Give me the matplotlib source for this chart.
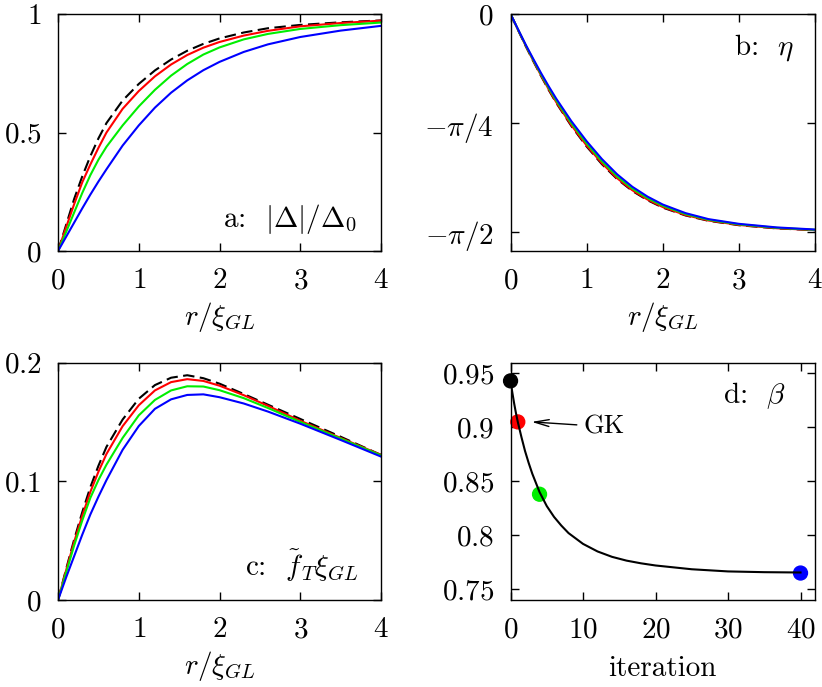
import numpy as np
import matplotlib
matplotlib.use("Agg")
import matplotlib.pyplot as plt

plt.rcParams['font.family'] = 'serif'
plt.rcParams['font.serif'] = ['cmr10']
plt.rcParams['mathtext.fontset'] = 'cm'
plt.rcParams['axes.unicode_minus'] = False

# radial grid r / xi_GL
r = [0, 0.1, 0.2, 0.3, 0.4, 0.5, 0.6, 0.8, 1.0, 1.2, 1.4, 1.6, 1.8, 2.0, 2.3, 2.6, 3.0, 3.5, 4.0]

# a: |Delta| / Delta_0
gap_black = [0, 0.11, 0.22, 0.315, 0.40, 0.475, 0.54, 0.635, 0.705, 0.762, 0.808, 0.845, 0.874, 0.897, 0.922, 0.940, 0.954, 0.965, 0.973]
gap_red = [0, 0.10, 0.198, 0.29, 0.365, 0.435, 0.50, 0.60, 0.675, 0.737, 0.787, 0.827, 0.858, 0.882, 0.909, 0.929, 0.948, 0.962, 0.972]
gap_green = [0, 0.08, 0.163, 0.245, 0.32, 0.385, 0.44, 0.53, 0.61, 0.68, 0.74, 0.789, 0.829, 0.859, 0.893, 0.916, 0.937, 0.953, 0.964]
gap_blue = [0, 0.06, 0.12, 0.18, 0.238, 0.293, 0.345, 0.445, 0.53, 0.605, 0.668, 0.72, 0.763, 0.798, 0.84, 0.872, 0.903, 0.93, 0.95]

# b: eta
eta_black = [0, -0.117, -0.232, -0.341, -0.446, -0.546, -0.640, -0.808, -0.955, -1.082, -1.189, -1.275, -1.342, -1.395, -1.452, -1.490, -1.522, -1.545, -1.558]
eta_red = [0, -0.116, -0.230, -0.338, -0.442, -0.541, -0.635, -0.802, -0.948, -1.075, -1.183, -1.270, -1.337, -1.391, -1.449, -1.488, -1.520, -1.544, -1.557]
eta_green = [0, -0.114, -0.226, -0.332, -0.434, -0.531, -0.623, -0.788, -0.933, -1.061, -1.170, -1.258, -1.327, -1.382, -1.442, -1.483, -1.516, -1.541, -1.555]
eta_blue = [0, -0.112, -0.222, -0.325, -0.425, -0.520, -0.610, -0.773, -0.917, -1.045, -1.155, -1.245, -1.316, -1.373, -1.435, -1.478, -1.512, -1.538, -1.553]

# c: f_T xi_GL
ft_black = [0, 0.026, 0.051, 0.074, 0.095, 0.113, 0.129, 0.152, 0.1695, 0.181, 0.1872, 0.1893, 0.1868, 0.1822, 0.1735, 0.1645, 0.1525, 0.1375, 0.1222]
ft_red = [0, 0.025, 0.049, 0.071, 0.091, 0.108, 0.123, 0.1464, 0.164, 0.1765, 0.1835, 0.186, 0.1845, 0.1805, 0.1725, 0.1635, 0.151, 0.1365, 0.1222]
ft_green = [0, 0.023, 0.046, 0.067, 0.086, 0.101, 0.114, 0.1365, 0.1555, 0.1685, 0.1765, 0.180, 0.1798, 0.1767, 0.170, 0.1617, 0.150, 0.136, 0.1218]
ft_blue = [0, 0.019, 0.037, 0.055, 0.072, 0.087, 0.101, 0.1265, 0.1465, 0.161, 0.169, 0.1727, 0.1732, 0.1708, 0.1655, 0.1587, 0.1485, 0.1348, 0.1208]

# d: beta vs iteration
iters = [0, 0.25, 0.5, 0.75, 1, 1.5, 2, 2.5, 3, 4, 5, 6, 7, 8, 10, 12, 14, 16, 18, 20, 25, 30, 35, 40]
beta = [0.943, 0.932, 0.922, 0.913, 0.905, 0.891, 0.878, 0.867, 0.857, 0.840, 0.827, 0.817, 0.809, 0.802,
        0.792, 0.785, 0.780, 0.7765, 0.774, 0.772, 0.7685, 0.7665, 0.7658, 0.7655]
pt_iter = [0, 1, 4, 40]
pt_beta = [0.943, 0.905, 0.838, 0.765]

colors = ['black', '#ff0000', '#00ee00', '#0000ff']

r_ticks = [0, 1, 2, 3, 4]
r_ticklabels = ['$0$', '$1$', '$2$', '$3$', '$4$']
a_ticks = [0, 0.5, 1]
a_ticklabels = ['$0$', '$0.5$', '$1$']
b_ticks = [0, -np.pi / 4, -np.pi / 2]
b_ticklabels = ['$0$', r'$-\pi/4$', r'$-\pi/2$']
c_ticks = [0, 0.1, 0.2]
c_ticklabels = ['$0$', '$0.1$', '$0.2$']
d_xticks = [0, 10, 20, 30, 40]
d_xticklabels = ['$0$', '$10$', '$20$', '$30$', '$40$']
d_yticks = [0.75, 0.8, 0.85, 0.9, 0.95]
d_yticklabels = ['$0.75$', '$0.8$', '$0.85$', '$0.9$', '$0.95$']

FS = 21

fig = plt.figure(figsize=(8.22, 6.87), dpi=100)
ax_a = fig.add_axes([0.0706, 0.6346, 0.3929, 0.345])
ax_b = fig.add_axes([0.6211, 0.6346, 0.3704, 0.345])
ax_c = fig.add_axes([0.0706, 0.1266, 0.3929, 0.3457])
ax_d = fig.add_axes([0.6211, 0.1266, 0.3704, 0.3457])


def style(ax):
    ax.tick_params(direction='in', top=True, right=True, length=6, width=1,
                   labelsize=FS, pad=12)
    for s in ax.spines.values():
        s.set_linewidth(1.0)


def radial(ax, series):
    for i, y in enumerate(series):
        if i == 0:
            ax.plot(r, y, color=colors[i], lw=1.5, dashes=(5.5, 2.6))
        else:
            ax.plot(r, y, color=colors[i], lw=1.5)
    ax.set_xlim(0, 4)
    ax.set_xticks(r_ticks)
    ax.set_xticklabels(r_ticklabels)
    ax.set_xlabel(r'$r/\xi_{GL}$', fontsize=FS, labelpad=4)
    style(ax)


radial(ax_a, [gap_black, gap_red, gap_green, gap_blue])
ax_a.set_ylim(0, 1)
ax_a.set_yticks(a_ticks)
ax_a.set_yticklabels(a_ticklabels)
ax_a.text(3.7, 0.10, r'a:  $|\Delta|/\Delta_0$', fontsize=FS, ha='right', va='baseline')

radial(ax_b, [eta_black, eta_red, eta_green, eta_blue])
ax_b.set_ylim(-1.708, 0)
ax_b.set_yticks(b_ticks)
ax_b.set_yticklabels(b_ticklabels)
ax_b.text(3.73, -0.295, r'b:  $\eta$', fontsize=FS, ha='right', va='baseline')

radial(ax_c, [ft_black, ft_red, ft_green, ft_blue])
ax_c.set_ylim(0, 0.2)
ax_c.set_yticks(c_ticks)
ax_c.set_yticklabels(c_ticklabels)
ax_c.text(3.72, 0.02, r'c:  $\tilde{f}_T\xi_{GL}$', fontsize=FS, ha='right', va='baseline')

ax_d.scatter(pt_iter, pt_beta, s=100, c=colors, zorder=2, clip_on=False)
ax_d.plot(iters, beta, color='black', lw=1.5, zorder=3)
ax_d.set_xlim(0, 42)
ax_d.set_ylim(0.74, 0.96)
ax_d.set_xticks(d_xticks)
ax_d.set_xticklabels(d_xticklabels)
ax_d.set_yticks(d_yticks)
ax_d.set_yticklabels(d_yticklabels)
ax_d.set_xlabel('iteration', fontsize=FS, labelpad=9)
ax_d.text(38.0, 0.9228, r'd:  $\beta$', fontsize=FS, ha='right', va='baseline')
ax_d.annotate('GK', xy=(2.9, 0.905), xytext=(10.1, 0.9006), fontsize=19,
              ha='left', va='center',
              arrowprops=dict(arrowstyle='->, head_length=0.55, head_width=0.13',
                              lw=1, color='black', shrinkA=3, shrinkB=0))
style(ax_d)

fig.savefig('out.png', dpi=100)
